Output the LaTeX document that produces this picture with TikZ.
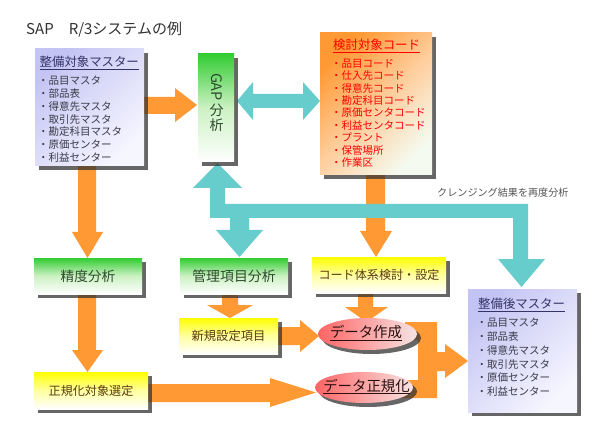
\documentclass[tikz,border=0pt]{standalone}
\usepackage{fontspec}
\setmainfont{Noto Sans CJK JP}
\usetikzlibrary{shadows,shapes.geometric}
\pgfdeclarelayer{bg}
\pgfsetlayers{bg,main}
\newcommand{\fsz}[1]{\fontsize{#1}{#1}\selectfont}
\definecolor{orng}{HTML}{FF9933}
\definecolor{orM}{HTML}{FFCC99}
\definecolor{orB}{HTML}{F4FAF0}
\definecolor{cyn}{HTML}{66CCCC}
\definecolor{grn}{HTML}{33CC33}
\definecolor{grnM}{HTML}{CCF2C4}
\definecolor{lav}{HTML}{C4C4F4}
\definecolor{lavB}{HTML}{F6F6FF}
\definecolor{yel}{HTML}{FFFF00}
\definecolor{yelM}{HTML}{FFFFA0}
\definecolor{pinkL}{HTML}{FF6464}
\definecolor{pinkR}{HTML}{F6E4E4}
\definecolor{navy}{HTML}{333366}
\definecolor{itemc}{HTML}{3A3A48}
\definecolor{gtext}{HTML}{2E4A2E}
\definecolor{ytext}{HTML}{5A3A10}
\definecolor{dgray}{HTML}{333333}
\definecolor{lgray}{HTML}{555555}
\definecolor{etext}{HTML}{2A1010}
\begin{document}
\begin{tikzpicture}[x=1pt,y=-1pt,
  shd/.style={drop shadow={shadow xshift=4pt,shadow yshift=-4pt,fill=black!80,opacity=.75}},
  lavbox/.style={shd,rectangle,inner sep=0pt,top color=lav,bottom color=lavB,shading angle=45},
  orbox/.style={shd,rectangle,inner sep=0pt,top color=orng,bottom color=orB,middle color=orM,shading angle=45},
  gbox/.style={shd,rectangle,inner sep=0pt,top color=grn,bottom color=white,middle color=grnM,text=gtext},
  ybox/.style={shd,rectangle,inner sep=0pt,top color=yel,bottom color=white,middle color=yelM,text=ytext},
  ell/.style={shd,ellipse,inner sep=0pt,left color=pinkL,right color=pinkR},
  oarrow/.style={fill=orng},
  carrow/.style={fill=cyn},
  item/.style={anchor=base west,inner sep=0pt,font=\fsz{10.5}},
  head/.style={anchor=base west,inner sep=0pt,font=\fsz{12.4}}]
\useasboundingbox (0,0) rectangle (595,425);

% ---------- title ----------
\node[anchor=west,inner sep=0pt,font=\fsz{15},text=dgray] (title) at (26,30) {SAP　R/3システムの例};

% ---------- boxes ----------
\node[lavbox,minimum width=109pt,minimum height=117pt] (b1) at (89.5,107.5) {};
\node[head,text=navy] (b1h) at (39.5,66.7) {\underline{整備対象マスター}};
\foreach \t [count=\i] in {品目マスタ,部品表,得意先マスタ,取引先マスタ,勘定科目マスタ,原価センター,利益センター}
  \node[item,text=itemc] (b1i\i) at (38,{84.7+12.8*(\i-1)}) {・\t};

\node[gbox,minimum width=36pt,minimum height=108pt] (gap) at (216,108) {};
\node[inner sep=0pt,rotate=-90,font=\fsz{14.5},text=gtext] (gapa) at (216.5,87) {GAP};
\node[inner sep=0pt,font=\fsz{14},text=gtext] (gapb) at (216.5,110) {分};
\node[inner sep=0pt,font=\fsz{14},text=gtext] (gapc) at (216.5,125) {析};

\node[orbox,minimum width=112pt,minimum height=142pt] (b2) at (376,104) {};
\node[head,text=red] (b2h) at (333,49.7) {\underline{検討対象コード}};
\foreach \t [count=\i] in {品目コード,仕入先コード,得意先コード,勘定科目コード,原価センタコード,利益センタコード,プラント,保管場所,作業区}
  \node[item,text=red] (b2i\i) at (331,{67.3+12.4*(\i-1)}) {・\t};

\node[lavbox,minimum width=109pt,minimum height=123pt] (b3) at (522.5,350.5) {};
\node[head,text=navy] (b3h) at (478,308.7) {\underline{整備後マスター}};
\foreach \t [count=\i] in {品目マスタ,部品表,得意先マスタ,取引先マスタ,原価センター,利益センター}
  \node[item,text=itemc] (b3i\i) at (476.5,{326.7+13.8*(\i-1)}) {・\t};

\node[gbox,minimum width=108pt,minimum height=36pt,font=\fsz{13.7}] (seido) at (88,276) {精度分析};
\node[gbox,minimum width=108pt,minimum height=36pt,font=\fsz{13.9}] (kanri) at (234,276) {管理項目分析};
\node[ybox,minimum width=134pt,minimum height=36pt,font=\fsz{12.1}] (code) at (379,275) {コード体系検討・設定};
\node[ybox,minimum width=99pt,minimum height=36pt,font=\fsz{12.3}] (shinki) at (228.5,336) {新規設定項目};
\node[ybox,minimum width=114pt,minimum height=37pt,font=\fsz{12.1}] (seiki) at (91,390.5) {正規化対象選定};

\node[ell,minimum width=99pt,minimum height=32pt] (e1) at (367.5,334) {};
\node[inner sep=0pt,font=\fsz{14.4},text=etext] (e1t) at (366,333) {\underline{データ作成}};
\node[ell,minimum width=98pt,minimum height=31pt] (e2) at (364,387.5) {};
\node[inner sep=0pt,font=\fsz{14.4},text=etext] (e2t) at (366.5,386.5) {\underline{データ正規化}};

\node[anchor=west,inner sep=0pt,font=\fsz{10.1},text=lgray] (cleanse) at (437,192.5) {クレンジング結果を再度分析};

% ---------- block arrows ----------
\begin{pgfonlayer}{bg}
\fill[white] (0,0) rectangle (595,425);
% orange
\fill[oarrow] (144,97) -- (175,97) -- (175,88) -- (197,105) -- (175,122) -- (175,114) -- (144,114) -- cycle;
\fill[oarrow] (78,166) -- (78,232) -- (72,232) -- (87.5,258) -- (103,232) -- (96,232) -- (96,166) -- cycle;
\fill[oarrow] (78,294) -- (78,350) -- (72,350) -- (87.5,372) -- (103,350) -- (96,350) -- (96,294) -- cycle;
\fill[oarrow] (366,175) -- (366,231) -- (360,231) -- (376,257) -- (392,231) -- (385,231) -- (385,175) -- cycle;
\fill[oarrow] (222,294) -- (222,305) -- (207,305) -- (230,318) -- (253,305) -- (238,305) -- (238,294) -- cycle;
\fill[oarrow] (278,327) -- (300,327) -- (300,320) -- (319,336) -- (300,352) -- (300,345) -- (278,345) -- cycle;
\fill[oarrow] (148,384) -- (270,384) -- (270,378) -- (316,392.5) -- (270,407) -- (270,402) -- (148,402) -- cycle;
\fill[oarrow] (358,293) -- (358,307) -- (345,307) -- (366.5,322) -- (388,307) -- (373,307) -- (373,293) -- cycle;
\fill[oarrow] (405,322) -- (437,322) -- (437,352) -- (445,352) -- (445,344) -- (468,361) -- (445,378) -- (445,371)
  -- (437,371) -- (437,398) -- (400,398) -- (400,380) -- (418,380) -- (418,340) -- (405,340) -- cycle;
% cyan
\fill[carrow] (237,101) -- (253,82) -- (253,94) -- (303,94) -- (303,82) -- (320,101) -- (303,120) -- (303,108)
  -- (253,108) -- (253,120) -- cycle;
\fill[carrow] (217.5,163) -- (242,188) -- (225,188) -- (225,204) -- (528,204) -- (528,259) -- (545,259)
  -- (521.5,287) -- (498,259) -- (513,259) -- (513,218) -- (249,218) -- (249,230) -- (263,230)
  -- (239.5,257) -- (216,230) -- (230,230) -- (230,218) -- (210,218) -- (210,188) -- (193,188) -- cycle;
\end{pgfonlayer}
\end{tikzpicture}
\end{document}
